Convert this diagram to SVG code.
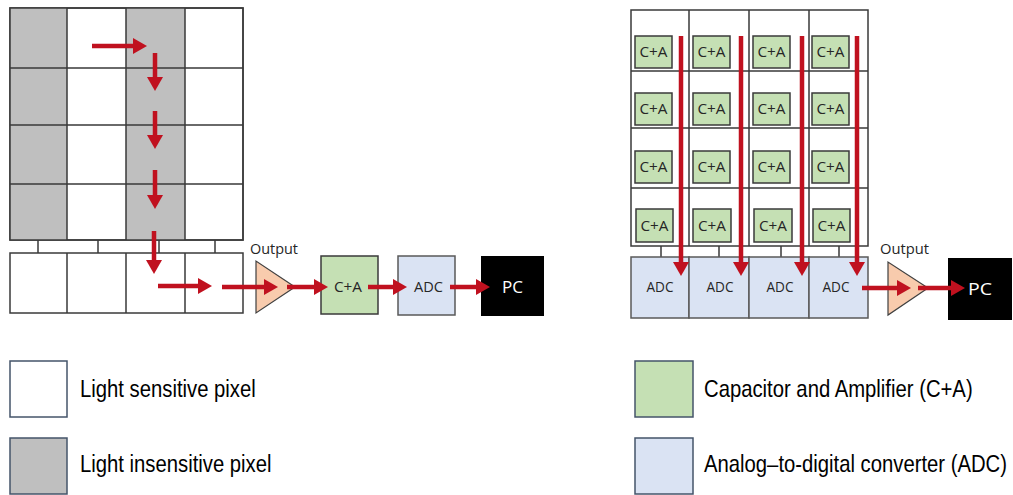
<svg xmlns="http://www.w3.org/2000/svg" width="1013" height="495" viewBox="0 0 1013 495">
<defs>
<marker id="ah" markerUnits="userSpaceOnUse" markerWidth="14" markerHeight="16" viewBox="0 0 14 16" refX="2" refY="8" orient="auto"><path d="M0,0 L14,8 L0,16 Z" fill="#c0111f"/></marker>
<style>
.cell{stroke:#3a3a3a;stroke-width:1.5}
.w{fill:#fff}
.g{fill:#bfbfbf}
.tick{stroke:#3a3a3a;stroke-width:1.5;fill:none}
.ca{fill:#c5e0b4;stroke:#3a3a3a;stroke-width:1.5}
.adc{fill:#dae3f3;stroke:#595959;stroke-width:1.5}
.pc{fill:#000}
.amp{fill:#f8cbad;stroke:#404040;stroke-width:1.2}
.arr{stroke:#c0111f;stroke-width:4.5;fill:none;marker-end:url(#ah)}
.lbl{font-family:"Open Sans","DejaVu Sans",sans-serif;fill:#262626;text-anchor:middle;font-size:14px}
.pct{font-family:"Open Sans","DejaVu Sans",sans-serif;fill:#fff;text-anchor:middle;font-size:17px}
.leg{font-family:"Liberation Sans",Arial,sans-serif;font-size:24px;fill:#000}
.legbox{stroke:#44546a;stroke-width:1.5}
</style>
</defs>
<rect width="1013" height="495" fill="#fff"/>

<!-- Left: CCD sensor -->
<g id="ccd-grid">
<rect class="cell w" x="10" y="8" width="233" height="232"/>
<rect class="g" x="10" y="8" width="57" height="232"/>
<rect class="g" x="126" y="8" width="59" height="232"/>
<path class="tick" d="M67,8V240M126,8V240M185,8V240M10,68H243M10,125H243M10,184H243"/>
<rect class="cell" fill="none" x="10" y="8" width="233" height="232"/>
</g>
<g id="ccd-readout">
<path class="tick" d="M38,240V253M98,240V253M159,240V253M215,240V253"/>
<rect class="cell w" x="10" y="253" width="233" height="60"/>
<path class="tick" d="M67,253V313M126,253V313M185,253V313"/>
</g>
<g id="ccd-amp">
<polygon class="amp" points="256,261 256,313 295,287"/>
<text class="lbl" x="274" y="254" textLength="48" lengthAdjust="spacingAndGlyphs">Output</text>
</g>
<g id="ccd-ca">
<rect class="ca" x="321" y="256" width="57" height="58"/>
<text class="lbl" x="348" y="292" textLength="28" lengthAdjust="spacingAndGlyphs">C+A</text>
</g>
<g id="ccd-adc">
<rect class="adc" x="398" y="256" width="57" height="59"/>
<text class="lbl" x="428.5" y="292" textLength="29" lengthAdjust="spacingAndGlyphs">ADC</text>
</g>
<g id="ccd-pc">
<rect class="pc" x="481" y="256" width="63" height="60"/>
<text class="pct" x="512.5" y="293" textLength="21" lengthAdjust="spacingAndGlyphs">PC</text>
</g>

<!-- Right: CMOS sensor -->
<g id="cmos-grid">
<rect class="cell w" x="631" y="10" width="237" height="236"/>
<path class="tick" d="M689,10V246M749,10V246M809,10V246M631,71H868M631,128H868M631,188H868"/>
</g>
<g id="cmos-ca">
<rect class="ca" x="635" y="36" width="37" height="32"/>
<rect class="ca" x="693" y="36" width="37" height="32"/>
<rect class="ca" x="753" y="36" width="37" height="32"/>
<rect class="ca" x="812" y="36" width="37" height="32"/>
<rect class="ca" x="635" y="93" width="37" height="32"/>
<rect class="ca" x="693" y="93" width="37" height="32"/>
<rect class="ca" x="753" y="93" width="37" height="32"/>
<rect class="ca" x="812" y="93" width="37" height="32"/>
<rect class="ca" x="635" y="151" width="37" height="32"/>
<rect class="ca" x="693" y="151" width="37" height="32"/>
<rect class="ca" x="753" y="151" width="37" height="32"/>
<rect class="ca" x="812" y="151" width="37" height="32"/>
<rect class="ca" x="636" y="209" width="37" height="33"/>
<rect class="ca" x="693" y="209" width="38" height="33"/>
<rect class="ca" x="754" y="209" width="38" height="33"/>
<rect class="ca" x="813" y="209" width="37" height="33"/>
<g class="lbl">
<text x="653.5" y="57" textLength="28" lengthAdjust="spacingAndGlyphs">C+A</text>
<text x="711.5" y="57" textLength="28" lengthAdjust="spacingAndGlyphs">C+A</text>
<text x="771.5" y="57" textLength="28" lengthAdjust="spacingAndGlyphs">C+A</text>
<text x="830.5" y="57" textLength="28" lengthAdjust="spacingAndGlyphs">C+A</text>
<text x="653.5" y="114" textLength="28" lengthAdjust="spacingAndGlyphs">C+A</text>
<text x="711.5" y="114" textLength="28" lengthAdjust="spacingAndGlyphs">C+A</text>
<text x="771.5" y="114" textLength="28" lengthAdjust="spacingAndGlyphs">C+A</text>
<text x="830.5" y="114" textLength="28" lengthAdjust="spacingAndGlyphs">C+A</text>
<text x="653.5" y="172" textLength="28" lengthAdjust="spacingAndGlyphs">C+A</text>
<text x="711.5" y="172" textLength="28" lengthAdjust="spacingAndGlyphs">C+A</text>
<text x="771.5" y="172" textLength="28" lengthAdjust="spacingAndGlyphs">C+A</text>
<text x="830.5" y="172" textLength="28" lengthAdjust="spacingAndGlyphs">C+A</text>
<text x="654.5" y="231" textLength="28" lengthAdjust="spacingAndGlyphs">C+A</text>
<text x="712" y="231" textLength="28" lengthAdjust="spacingAndGlyphs">C+A</text>
<text x="773" y="231" textLength="28" lengthAdjust="spacingAndGlyphs">C+A</text>
<text x="831.5" y="231" textLength="28" lengthAdjust="spacingAndGlyphs">C+A</text>
</g>
</g>
<g id="cmos-adc">
<path class="tick" d="M661,246V257M719,246V257M781,246V257M839,246V257"/>
<rect class="adc" x="631" y="257" width="58" height="61"/>
<rect class="adc" x="689" y="257" width="60" height="61"/>
<rect class="adc" x="749" y="257" width="60" height="61"/>
<rect class="adc" x="809" y="257" width="59" height="61"/>
<g class="lbl">
<text x="660" y="292" textLength="27" lengthAdjust="spacingAndGlyphs">ADC</text>
<text x="720" y="292" textLength="27" lengthAdjust="spacingAndGlyphs">ADC</text>
<text x="780" y="292" textLength="27" lengthAdjust="spacingAndGlyphs">ADC</text>
<text x="836" y="292" textLength="27" lengthAdjust="spacingAndGlyphs">ADC</text>
</g>
</g>
<g id="cmos-amp">
<polygon class="amp" points="888,262 888,315 928,288"/>
<text class="lbl" x="904.5" y="254" textLength="49" lengthAdjust="spacingAndGlyphs">Output</text>
</g>
<g id="cmos-pc">
<rect class="pc" x="948" y="258" width="64" height="62"/>
<text class="pct" x="980" y="295" textLength="24" lengthAdjust="spacingAndGlyphs">PC</text>
</g>

<!-- Connectors -->
<g id="connectors">
<path class="arr" d="M92,46H135"/>
<path class="arr" d="M155,53V79"/>
<path class="arr" d="M155,111V137"/>
<path class="arr" d="M155,170V197"/>
<path class="arr" d="M154,231V262"/>
<path class="arr" d="M158,286H200"/>
<path class="arr" d="M222,287H266"/>
<path class="arr" d="M287,287H316"/>
<path class="arr" d="M368,287H395"/>
<path class="arr" d="M450,287H478"/>
<path class="arr" d="M681,36V264"/>
<path class="arr" d="M741,36V264"/>
<path class="arr" d="M802,36V264"/>
<path class="arr" d="M857,36V264"/>
<path class="arr" d="M862,288H899"/>
<path class="arr" d="M918,288H953"/>
</g>

<!-- Legend -->
<g id="legend-light-sensitive">
<rect class="legbox" fill="#fff" x="10" y="361" width="57" height="56"/>
<text class="leg" transform="translate(80,397) scale(0.845,1)">Light sensitive pixel</text>
</g>
<g id="legend-light-insensitive">
<rect class="legbox" fill="#bfbfbf" x="10" y="438" width="57" height="56"/>
<text class="leg" transform="translate(80,472) scale(0.845,1)">Light insensitive pixel</text>
</g>
<g id="legend-ca">
<rect class="legbox" fill="#c5e0b4" x="635" y="361" width="58" height="56"/>
<text class="leg" transform="translate(704,397) scale(0.845,1)">Capacitor and Amplifier (C+A)</text>
</g>
<g id="legend-adc">
<rect class="legbox" fill="#dae3f3" x="635" y="438" width="58" height="56"/>
<text class="leg" transform="translate(704,472) scale(0.845,1)">Analog–to-digital converter (ADC)</text>
</g>
</svg>
